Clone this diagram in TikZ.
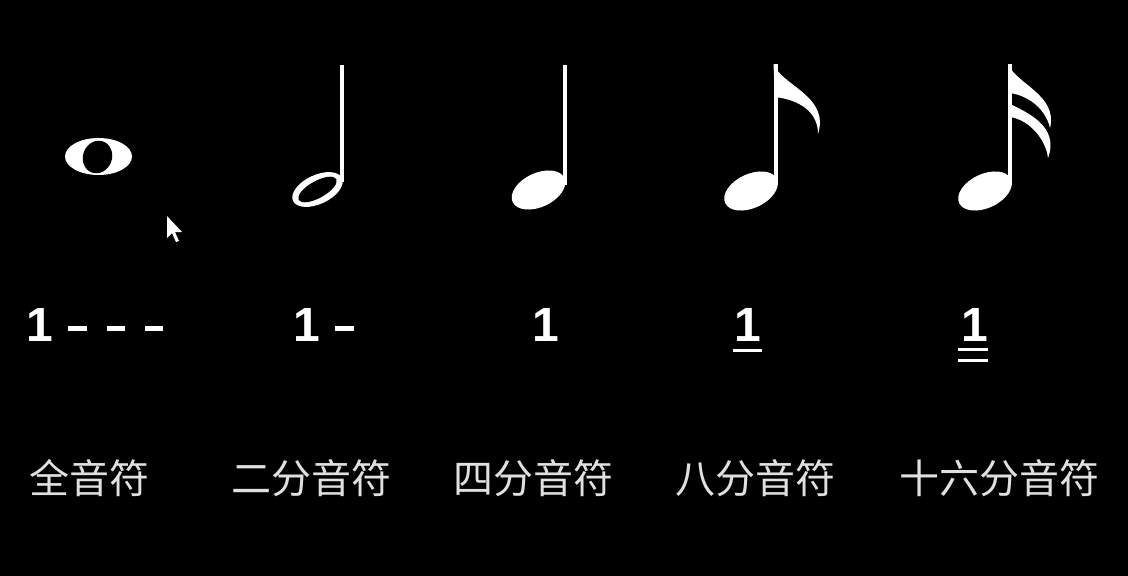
\documentclass[tikz,border=0pt]{standalone}
\usepackage{fontspec}
\newfontfamily\cjk{Noto Sans CJK SC}
\newfontfamily\numfont{Liberation Sans}
\begin{document}
\begin{tikzpicture}[x=1pt,y=1pt,
  notefill/.style={fill=white,draw=none},
  stemline/.style={white,line width=4pt},
  durline/.style={white,line width=5pt},
  underl/.style={white,line width=3pt},
  num/.style={anchor=base,inner sep=0pt,text=white,font=\numfont\bfseries\fontsize{48}{48}\selectfont},
  lbl/.style={inner sep=0pt,text=white!88!black,font=\cjk\fontsize{40}{40}\selectfont}]
\fill[black] (0,0) rectangle (1128,-576);
\useasboundingbox (0,0) rectangle (1128,-576);

% whole note
\fill[white] (98.5,-156.5) ellipse [x radius=33.5, y radius=18.5];
\fill[black, rotate around={-20:(97.5,-157)}] (97.5,-157) ellipse [x radius=14.5, y radius=16.5];

% cursor
\fill[white] (167,-216) -- (167,-238) -- (172,-233) -- (176,-242) -- (179,-241) -- (175,-232) -- (182,-232) -- cycle;

% half note
\fill[white, rotate around={25:(317.5,-189.5)}] (317.5,-189.5) ellipse [x radius=27, y radius=14.5];
\fill[black, rotate around={29:(317.5,-189.5)}] (317.5,-189.5) ellipse [x radius=21.5, y radius=8.5];
\coordinate (h2top) at (341.8,-65);
\coordinate (h2bot) at (341.8,-182);
\draw[stemline] (h2top) -- (h2bot);

% quarter note
\fill[white, rotate around={25:(538.5,-190)}] (538.5,-190) ellipse [x radius=28.5, y radius=17];
\coordinate (h4top) at (565,-65);
\coordinate (h4bot) at (565,-185);
\draw[stemline] (h4top) -- (h4bot);

% eighth note
\fill[white, rotate around={25:(751,-191)}] (751,-191) ellipse [x radius=28.5, y radius=17];
\coordinate (h8top) at (775.5,-64);
\coordinate (h8bot) at (775.5,-185);
\draw[stemline] (h8top) -- (h8bot);
\fill[white] (773.5,-64) .. controls (782,-86) and (830,-96) .. (818,-134)
  .. controls (818,-112) and (800,-100) .. (775,-97) -- cycle;

% sixteenth note
\fill[white, rotate around={25:(985,-191)}] (985,-191) ellipse [x radius=28.5, y radius=17];
\coordinate (h16top) at (1010,-64);
\coordinate (h16bot) at (1010,-185);
\draw[stemline] (h16top) -- (h16bot);
\fill[white] (1008,-64) .. controls (1016,-84) and (1058,-95) .. (1050,-128)
  .. controls (1046,-110) and (1030,-96) .. (1010,-93) -- cycle;
\fill[white] (1010,-104) .. controls (1026,-112) and (1060,-126) .. (1048,-158)
  .. controls (1046,-140) and (1030,-120) .. (1010,-117) -- cycle;

% numbered notation
\node[num] (n1) at (39.5,-341) {1};
\coordinate (d1a) at (68,-328); \coordinate (d1b) at (87,-328);
\coordinate (d2a) at (107,-328); \coordinate (d2b) at (125,-328);
\coordinate (d3a) at (145,-328); \coordinate (d3b) at (163,-328);
\draw[durline] (d1a) -- (d1b);
\draw[durline] (d2a) -- (d2b);
\draw[durline] (d3a) -- (d3b);

\node[num] (n2) at (306.5,-341) {1};
\coordinate (d4a) at (335,-328); \coordinate (d4b) at (354,-328);
\draw[durline] (d4a) -- (d4b);

\node[num] (n4) at (545.5,-341) {1};

\node[num] (n8) at (747.5,-341) {1};
\coordinate (u1a) at (733,-350); \coordinate (u1b) at (762,-350);
\draw[underl] (u1a) -- (u1b);

\node[num] (n16) at (974.5,-341) {1};
\coordinate (u2a) at (958,-349); \coordinate (u2b) at (988,-349);
\coordinate (u3a) at (958,-360); \coordinate (u3b) at (988,-360);
\draw[underl] (u2a) -- (u2b);
\draw[underl] (u3a) -- (u3b);

% labels
\node[lbl] (l1) at (90,-478) {全音符};
\node[lbl] (l2) at (311,-478) {二分音符};
\node[lbl] (l3) at (533,-478) {四分音符};
\node[lbl] (l4) at (755,-478) {八分音符};
\node[lbl] (l5) at (999,-478) {十六分音符};
\end{tikzpicture}
\end{document}
